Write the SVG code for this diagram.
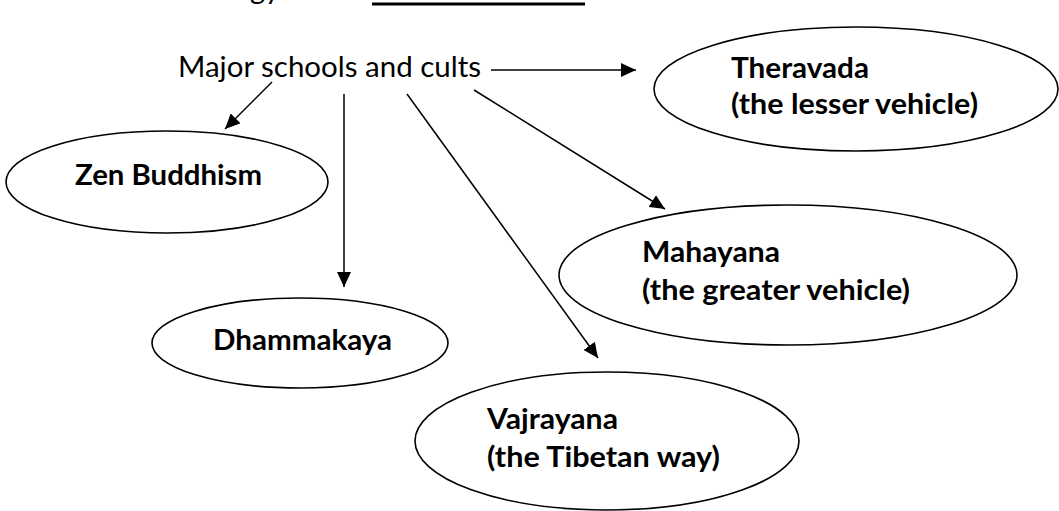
<svg xmlns="http://www.w3.org/2000/svg" width="1059" height="511" viewBox="0 0 1059 511">
<style>
.bg{fill:#fff}
.node ellipse{fill:#fff;stroke:#000;stroke-width:1.6}
.lbl{font-family:Lato,"Liberation Sans",sans-serif;font-weight:700;font-size:29px;fill:#000}
.src{font-family:Lato,"Liberation Sans",sans-serif;font-size:29px;fill:#000}
.edge{stroke:#000;stroke-width:1.5;fill:none;marker-end:url(#ah)}
</style>
<defs>
<marker id="ah" markerUnits="userSpaceOnUse" markerWidth="16" markerHeight="14" refX="15" refY="7" orient="auto">
<path d="M0,0 L15,7 L0,14 Z" fill="#000"/>
</marker>
</defs>
<rect class="bg" x="0" y="0" width="1059" height="511"/>
<g id="title-fragment">
<text class="src" x="250" y="-1">gy</text>
<line x1="372" y1="4" x2="585" y2="4" stroke="#000" stroke-width="3"/>
</g>
<g id="source">
<text class="src" x="178" y="77" textLength="303" lengthAdjust="spacingAndGlyphs">Major schools and cults</text>
</g>
<g id="theravada" class="node">
<ellipse cx="856" cy="89" rx="202" ry="62"/>
<text class="lbl" x="731" y="78" textLength="138" lengthAdjust="spacingAndGlyphs">Theravada</text>
<text class="lbl" x="731" y="114" textLength="247" lengthAdjust="spacingAndGlyphs">(the lesser vehicle)</text>
</g>
<g id="zen" class="node">
<ellipse cx="167" cy="182" rx="161" ry="51"/>
<text class="lbl" x="75" y="185" textLength="187" lengthAdjust="spacingAndGlyphs">Zen Buddhism</text>
</g>
<g id="dhammakaya" class="node">
<ellipse cx="300" cy="343" rx="148" ry="45"/>
<text class="lbl" x="213" y="350" textLength="179" lengthAdjust="spacingAndGlyphs">Dhammakaya</text>
</g>
<g id="mahayana" class="node">
<ellipse cx="788" cy="275" rx="229" ry="70"/>
<text class="lbl" x="642" y="262" textLength="138" lengthAdjust="spacingAndGlyphs">Mahayana</text>
<text class="lbl" x="642" y="300" textLength="268" lengthAdjust="spacingAndGlyphs">(the greater vehicle)</text>
</g>
<g id="vajrayana" class="node">
<ellipse cx="607" cy="441" rx="192" ry="69"/>
<text class="lbl" x="487" y="429" textLength="131" lengthAdjust="spacingAndGlyphs">Vajrayana</text>
<text class="lbl" x="487" y="467" textLength="233" lengthAdjust="spacingAndGlyphs">(the Tibetan way)</text>
</g>
<g id="connectors">
<line class="edge" x1="491" y1="70" x2="636" y2="70" stroke-width="2"/>
<line class="edge" x1="272" y1="82" x2="225" y2="129"/>
<line class="edge" x1="344" y1="94" x2="344" y2="287"/>
<line class="edge" x1="407" y1="94" x2="598" y2="358"/>
<line class="edge" x1="474" y1="90" x2="665" y2="209"/>
</g>
</svg>
